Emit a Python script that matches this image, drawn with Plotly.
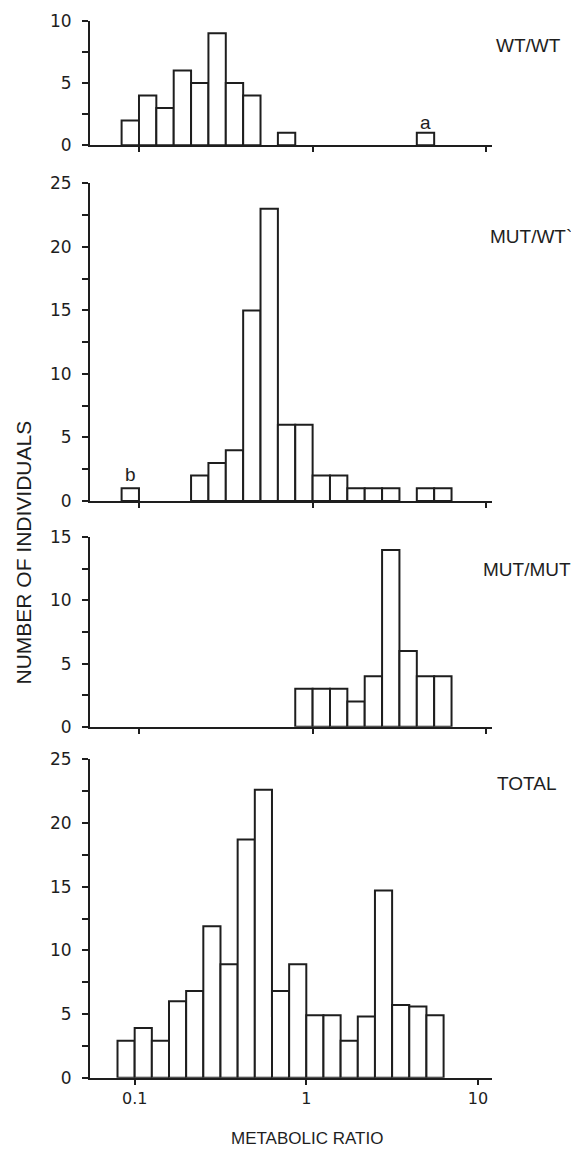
import plotly.graph_objects as go

# ---- data ----
# histogram bins in log10(metabolic ratio), width 0.1 decade, first bin starts at log10 = -1.1
bin_start = -1.1
bin_width = 0.1
wt_wt   = [2, 4, 3, 6, 5, 9, 5, 4, 0, 1, 0, 0, 0, 0, 0, 0, 0, 1, 0]
mut_wt  = [1, 0, 0, 0, 2, 3, 4, 15, 23, 6, 6, 2, 2, 1, 1, 1, 0, 1, 1]
mut_mut = [0, 0, 0, 0, 0, 0, 0, 0, 0, 0, 3, 3, 3, 2, 4, 14, 6, 4, 4]
total   = [2.9, 3.9, 2.9, 6.0, 6.8, 11.9, 8.9, 18.7, 22.6, 6.8, 8.9, 4.9, 4.9, 2.9, 4.8, 14.7, 5.7, 5.6, 4.9]
panel_names = ["WT/WT", "MUT/WT`", "MUT/MUT", "TOTAL"]
y_max = [10, 25, 15, 25]
x_tick_vals = [-1, 0, 1]
x_tick_text = ["0.1", "1", "10"]

# the page body has an 8px margin; positions below are in window pixels
OFF = 8
W, H = 579 - OFF, 1149 - OFF
ML = 90 - OFF
MR = W - (492 - OFF)
PW = W - ML - MR
INK = "#1e1e1e"
FONT = "Liberation Sans, Arial, sans-serif"
TFONT = "DejaVu Sans, Verdana, sans-serif"

def py(p):  # window pixel y -> paper fraction
    return 1 - (p - OFF) / H

def px(p):  # window pixel x -> paper fraction
    return (p - OFF - ML) / PW

domains = [(145.3, 20.7), (501.0, 183.3), (726.7, 537.3), (1077.7, 759.3)]
xranges = [[-1.282, 1.033], [-1.282, 1.033], [-1.282, 1.033], [-1.2603, 1.082]]

fig = go.Figure()
series = [wt_wt, mut_wt, mut_mut, total]
for i, vals in enumerate(series):
    xs, ys = [], []
    for k, v in enumerate(vals):
        if v > 0:
            xs.append(bin_start + bin_width * (k + 0.5))
            ys.append(v)
    n = "" if i == 0 else str(i + 1)
    fig.add_trace(go.Bar(x=xs, y=ys, width=bin_width, xaxis="x" + n, yaxis="y" + n,
                         marker=dict(color="white", line=dict(color=INK, width=2)),
                         hoverinfo="skip"))
    b, t = domains[i]
    fig.layout["xaxis" + n] = dict(
        domain=[0, 1], anchor="y" + n, range=xranges[i],
        tickvals=x_tick_vals, ticktext=x_tick_text, showticklabels=(i == 3),
        ticks="outside", ticklen=5, tickwidth=2, tickcolor=INK,
        showline=True, linewidth=2, linecolor=INK, showgrid=False, zeroline=False,
        tickfont=dict(family=TFONT, size=16, color=INK), automargin=False,
    )
    fig.layout["yaxis" + n] = dict(
        domain=[py(b), py(t)], anchor="x" + n, range=[0, y_max[i]],
        tickvals=list(range(0, y_max[i] + 1, 5)),
        ticks="outside", ticklen=6, tickwidth=2, tickcolor=INK,
        minor=dict(ticks="outside", ticklen=6, tickwidth=2, tickcolor=INK, dtick=2.5, tick0=0),
        showline=True, linewidth=2, linecolor=INK, showgrid=False, zeroline=False,
        tickfont=dict(family=TFONT, size=17, color=INK), automargin=False,
        ticklabelstandoff=7,
    )

label_pos = [(528.5, 45.5), (531, 236), (527.4, 569), (526.5, 783)]
for name, (lx, ly) in zip(panel_names, label_pos):
    fig.add_annotation(text=name, x=px(lx), y=py(ly), xref="paper", yref="paper",
                       showarrow=False, xanchor="center", yanchor="middle",
                       font=dict(family=FONT, size=19, color=INK))

fig.add_annotation(text="a", x=0.65, y=1.8, xref="x", yref="y", showarrow=False,
                   font=dict(family=FONT, size=19, color=INK))
fig.add_annotation(text="b", x=-1.05, y=2.05, xref="x2", yref="y2", showarrow=False,
                   font=dict(family=FONT, size=19, color=INK))

fig.add_annotation(text="NUMBER OF INDIVIDUALS", x=px(23), y=py(552.5), xref="paper", yref="paper",
                   textangle=-90, showarrow=False, xanchor="center", yanchor="middle",
                   font=dict(family=FONT, size=21, color=INK))
fig.add_annotation(text="METABOLIC RATIO", x=px(307), y=py(1138), xref="paper", yref="paper",
                   showarrow=False, xanchor="center", yanchor="middle",
                   font=dict(family=FONT, size=17, color=INK))

fig.update_layout(width=W, height=H, margin=dict(l=ML, r=MR, t=0, b=0),
                  plot_bgcolor="white", paper_bgcolor="white", showlegend=False,
                  barmode="overlay")

fig.write_html("out.html")
